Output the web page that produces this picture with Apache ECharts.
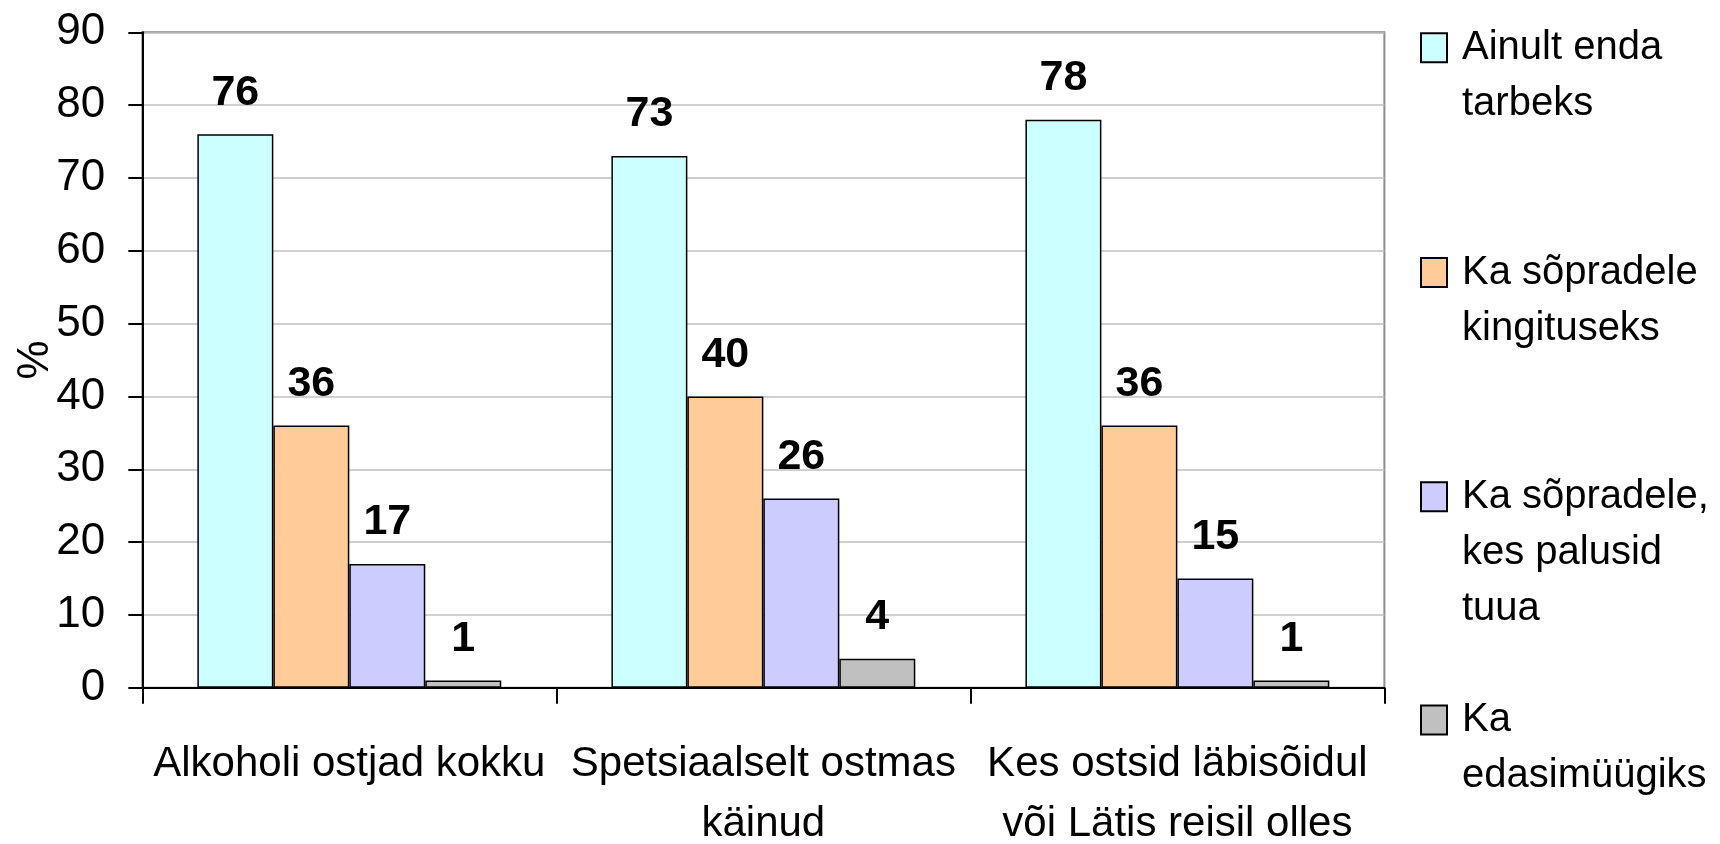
<!DOCTYPE html>
<html>
<head>
<meta charset="utf-8">
<script src="https://cdn.jsdelivr.net/npm/echarts@6/dist/echarts.min.js"></script>
<style>
html,body{margin:0;padding:0;background:#fff;}
#chart{width:1720px;height:844px;}
</style>
</head>
<body>
<div id="chart"></div>
<script>
const categories = ['Alkoholi ostjad kokku', 'Spetsiaalselt ostmas\nkäinud', 'Kes ostsid läbisõidul\nvõi Lätis reisil olles'];
const seriesNames = ['Ainult enda\ntarbeks', 'Ka sõpradele\nkingituseks', 'Ka sõpradele,\nkes palusid\ntuua', 'Ka\nedasimüügiks'];
const ainultEnda = [76, 73, 78];
const kingituseks = [36, 40, 36];
const palusidTuua = [17, 26, 15];
const edasimuugiks = [1, 4, 1];
const yTicks = [0, 10, 20, 30, 40, 50, 60, 70, 80, 90];
const yName = '%';

const seriesValues = [ainultEnda, kingituseks, palusidTuua, edasimuugiks];
const colors = ['#CCFFFF', '#FFCC99', '#CCCCFF', '#C0C0C0'];
const FONT = "'Liberation Sans', Arial, sans-serif";

const legendCenters = [47.7, 272.5, 496.7, 720];
const LH = 56;

const legends = seriesNames.map((name, i) => {
  const n = name.split('\n').length;
  const block = (2 * n - 1) * LH;
  return {
    orient: 'vertical',
    left: 1420,
    top: legendCenters[i] - block / 2,
    padding: 0,
    data: [name],
    selectedMode: false,
    itemWidth: 26,
    itemHeight: 29,
    icon: 'rect',
    formatter: function (nm) { return '\n'.repeat(n - 1) + nm; },
    textStyle: { fontFamily: FONT, fontSize: 40, color: '#000', lineHeight: LH, padding: [0, 0, 0, 10] }
  };
});

const chart = echarts.init(document.getElementById('chart'), null, { renderer: 'canvas' });
chart.setOption({
  animation: false,
  backgroundColor: '#fff',
  grid: {
    left: 142.3, right: 335.6, top: 32.3, bottom: 156.2,
    containLabel: false, outerBoundsMode: 'none',
    show: true, borderColor: '#8C8C8C', borderWidth: 2, backgroundColor: 'transparent'
  },
  legend: legends,
  xAxis: {
    type: 'category',
    data: categories,
    axisLine: { lineStyle: { color: '#000', width: 2 } },
    axisTick: { show: true, length: 16, inside: false, alignWithLabel: false, lineStyle: { color: '#000', width: 2 } },
    axisLabel: { fontFamily: FONT, fontSize: 42, color: '#000', margin: 47, lineHeight: 60, interval: 0 },
    splitLine: { show: false }
  },
  yAxis: {
    type: 'value',
    min: yTicks[0],
    max: yTicks[yTicks.length - 1],
    interval: yTicks[1] - yTicks[0],
    name: yName,
    nameLocation: 'middle',
    nameGap: 84,
    nameRotate: 90,
    nameMoveOverlap: false,
    nameTextStyle: { fontFamily: FONT, fontSize: 44, color: '#000' },
    axisLine: { show: true, lineStyle: { color: '#000', width: 2 } },
    axisTick: { show: true, length: 14, lineStyle: { color: '#000', width: 2 } },
    axisLabel: { fontFamily: FONT, fontSize: 44, color: '#000', margin: 37 },
    splitLine: { show: true, lineStyle: { color: '#C0C0C0', width: 1.5 } }
  },
  series: seriesValues.map((vals, i) => ({
    type: 'bar',
    name: seriesNames[i],
    data: vals,
    barGap: '0%',
    barCategoryGap: '26.6%',
    itemStyle: { color: colors[i], borderColor: '#000', borderWidth: 1.5 },
    label: {
      show: true, position: 'top', distance: 20,
      fontFamily: FONT, fontSize: 43, fontWeight: 'bold', color: '#000'
    }
  }))
});
</script>
</body>
</html>
